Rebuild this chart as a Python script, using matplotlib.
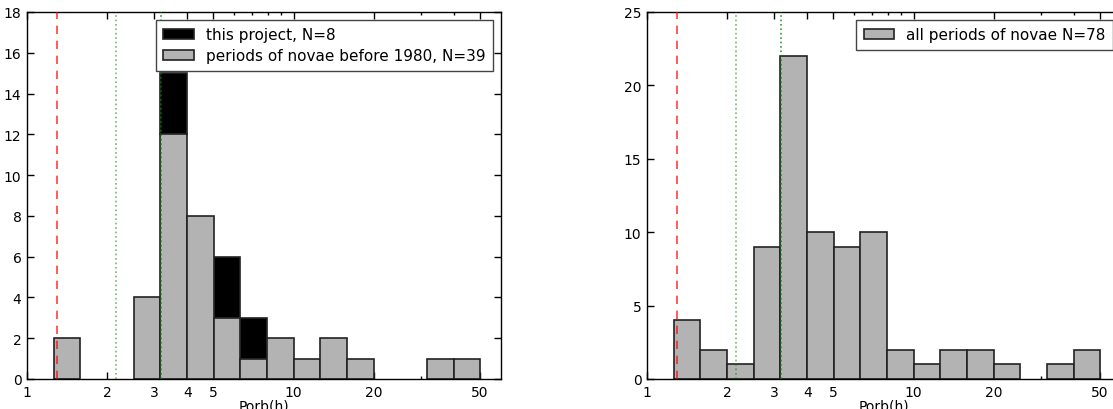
import numpy as np
import matplotlib
matplotlib.use("Agg")
import matplotlib.pyplot as plt
from matplotlib.ticker import FixedLocator, FixedFormatter

# log bins, 10 per decade, from 1 h to 50 h
bin_edges = 10 ** (np.arange(0, 18) / 10.0)

# left panel: novae before 1980 (gray) + this project (black, stacked on top)
old_counts = [0, 2, 0, 0, 4, 12, 8, 3, 1, 2, 1, 2, 1, 0, 0, 1, 1]
new_counts = [0, 0, 0, 0, 0, 3, 0, 3, 2, 0, 0, 0, 0, 0, 0, 0, 0]

# right panel: all periods of novae
all_counts = [0, 4, 2, 1, 9, 22, 10, 9, 10, 2, 1, 2, 2, 1, 0, 1, 2]

p_min = 1.30    # red dashed
gap_lo = 2.15   # green dotted
gap_hi = 3.18

major_ticks = [1, 2, 3, 4, 5, 10, 20, 50]
minor_ticks = [6, 7, 8, 9, 30, 40]

edges = bin_edges[:-1]
widths = np.diff(bin_edges)

fig = plt.figure(figsize=(11.13, 4.1), dpi=100)
ax1 = fig.add_axes([27 / 1113, 30 / 410, 474 / 1113, 367 / 410])
ax2 = fig.add_axes([647 / 1113, 30 / 410, 474 / 1113, 367 / 410])


def style(ax, ymax, ystep):
    ax.set_xscale("log")
    ax.set_xlim(1, 60)
    ax.set_ylim(0, ymax)
    ax.set_yticks(np.arange(0, ymax + 1, ystep))
    ax.xaxis.set_major_locator(FixedLocator(major_ticks))
    ax.xaxis.set_major_formatter(FixedFormatter([str(t) for t in major_ticks]))
    ax.xaxis.set_minor_locator(FixedLocator(minor_ticks))
    ax.xaxis.set_minor_formatter(FixedFormatter([""] * len(minor_ticks)))
    ax.tick_params(which="both", direction="in", top=True, right=True,
                   labelsize=10, width=1)
    ax.tick_params(which="major", length=5, pad=4)
    ax.tick_params(which="minor", length=2.5)
    for s in ax.spines.values():
        s.set_linewidth(1)
    ax.set_xlabel("Porb(h)", fontsize=10, labelpad=0)
    ax.axvline(p_min, color="red", ls="--", lw=1.2, alpha=0.75,
               dashes=(5, 4), zorder=3)
    ax.axvline(gap_lo, color="green", ls=":", lw=1.2, alpha=0.55, zorder=3)
    ax.axvline(gap_hi, color="green", ls=":", lw=1.2, alpha=0.8, zorder=3)


style(ax1, 18, 2)
style(ax2, 25, 5)

old = np.array(old_counts)
new = np.array(new_counts)
mask_old = old > 0
mask_new = new > 0
ax1.bar(edges[mask_new], new[mask_new], bottom=old[mask_new],
        width=widths[mask_new], align="edge", color="black",
        edgecolor="#222222", lw=1.2, label="this project, N=8", zorder=2)
ax1.bar(edges[mask_old], old[mask_old], width=widths[mask_old],
        align="edge", color="0.7", edgecolor="#222222", lw=1.2,
        label="periods of novae before 1980, N=39", zorder=2)

allc = np.array(all_counts)
mask_all = allc > 0
ax2.bar(edges[mask_all], allc[mask_all], width=widths[mask_all],
        align="edge", color="0.7", edgecolor="#222222", lw=1.2,
        label="all periods of novae N=78", zorder=2)

for ax in (ax1, ax2):
    leg = ax.legend(loc="upper right", fontsize=11, fancybox=False,
                    borderaxespad=0.5, handlelength=2.0, handletextpad=0.8,
                    borderpad=0.5, labelspacing=0.4)
    leg.get_frame().set_edgecolor("#444444")
    leg.get_frame().set_linewidth(1)
    leg.get_frame().set_alpha(1)
    leg.set_zorder(5)

fig.savefig("out.png", dpi=100)
